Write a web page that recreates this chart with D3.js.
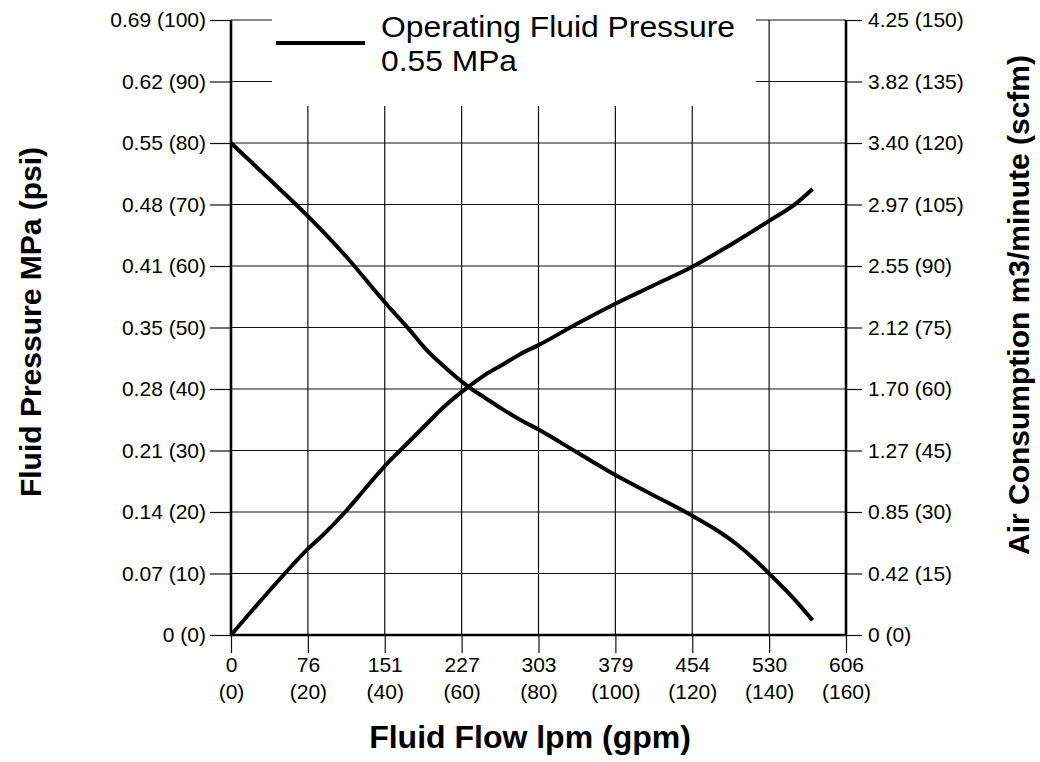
<!DOCTYPE html>
<html>
<head>
<meta charset="utf-8">
<script src="https://cdn.jsdelivr.net/npm/d3@7"></script>
<style>
  body { margin: 0; background: #fff; }
  text { font-family: "Liberation Sans", Arial, Helvetica, sans-serif; fill: #000; }
</style>
</head>
<body>
<div id="chart"></div>
<script>
// Data (flow in gpm, pressure in psi, air in scfm)
const pressureFlow = [0, 10, 20, 30, 40, 46.6, 50.5, 55, 61.7, 66, 70.4, 75.2, 80, 90, 100, 110, 120, 126, 131.5, 136, 140, 146, 151.3]
const pressurePsi  = [80, 74.1, 68.1, 61.5, 54.1, 49.5, 46.6, 43.9, 40.4, 38.6, 36.8, 35.0, 33.4, 29.7, 26.0, 22.7, 19.4, 17.2, 14.8, 12.4, 10.0, 6.2, 2.4]

const airFlow = [0, 7, 14, 20, 23.6, 29.7, 35, 40, 44, 50, 55, 61.7, 66, 70.4, 75.2, 80, 90, 100, 110, 120, 130, 140, 147.2, 151.3]
const airScfm = [0, 7.6, 15, 21, 24.1, 30, 35.8, 41.2, 45, 50.6, 55.3, 60.5, 63.4, 65.8, 68.5, 70.7, 75.9, 80.8, 85.3, 89.8, 95.2, 101, 105.4, 108.8]

// tick labels
const flowTicks = [0, 20, 40, 60, 80, 100, 120, 140, 160]
const flowLpm = ["0", "76", "151", "227", "303", "379", "454", "530", "606"]
const psiTicks = [0, 10, 20, 30, 40, 50, 60, 70, 80, 90, 100]
const mpaLabels = ["0", "0.07", "0.14", "0.21", "0.28", "0.35", "0.41", "0.48", "0.55", "0.62", "0.69"]
const scfmTicks = [0, 15, 30, 45, 60, 75, 90, 105, 120, 135, 150]
const m3Labels = ["0", "0.42", "0.85", "1.27", "1.70", "2.12", "2.55", "2.97", "3.40", "3.82", "4.25"]

const width = 1040
const height = 762
const plotL = 231, plotR = 846, plotT = 20, plotB = 635

var svg = d3.select("#chart")
    .append("svg")
    .attr("width", width)
    .attr("height", height)

var x = d3.scaleLinear().domain([0, 160]).range([plotL, plotR])
var yP = d3.scaleLinear().domain([0, 100]).range([plotB, plotT])
var yA = d3.scaleLinear().domain([0, 150]).range([plotB, plotT])

// grid
svg.append("g")
    .selectAll("line")
    .data(psiTicks)
    .enter()
    .append("line")
    .attr("x1", plotL).attr("x2", plotR)
    .attr("y1", d => yP(d)).attr("y2", d => yP(d))
    .attr("stroke", "#111")
    .attr("stroke-width", 1.2)

svg.append("g")
    .selectAll("line")
    .data(flowTicks.slice(1, -1))
    .enter()
    .append("line")
    .attr("x1", d => x(d)).attr("x2", d => x(d))
    .attr("y1", plotT).attr("y2", plotB)
    .attr("stroke", "#111")
    .attr("stroke-width", 1.2)

// left axis (MPa / psi)
svg.append("g")
    .attr("transform", "translate(" + plotL + ",0)")
    .call(d3.axisLeft(yP).tickValues(psiTicks).tickSize(21).tickPadding(4)
        .tickFormat((d, i) => mpaLabels[i] + " (" + d + ")"))
    .call(g => g.select(".domain").remove())
    .call(g => g.selectAll(".tick line").attr("stroke", "#111").attr("stroke-width", 1.2))
    .call(g => g.selectAll("text").style("font-size", "21px").attr("fill", "#222"))

// right axis (m3/min / scfm)
svg.append("g")
    .attr("transform", "translate(" + plotR + ",0)")
    .call(d3.axisRight(yA).tickValues(scfmTicks).tickSize(16).tickPadding(6)
        .tickFormat((d, i) => m3Labels[i] + " (" + d + ")"))
    .call(g => g.select(".domain").remove())
    .call(g => g.selectAll(".tick line").attr("stroke", "#111").attr("stroke-width", 1.2))
    .call(g => g.selectAll("text").style("font-size", "21px").attr("fill", "#222"))

// bottom axis, two line labels: lpm over (gpm)
var xAxis = svg.append("g")
    .attr("transform", "translate(0," + plotB + ")")
    .call(d3.axisBottom(x).tickValues(flowTicks).tickSize(18).tickFormat(""))
xAxis.select(".domain").remove()
xAxis.selectAll(".tick line").attr("stroke", "#111").attr("stroke-width", 1.2)
xAxis.selectAll(".tick")
    .append("text")
    .attr("text-anchor", "middle")
    .style("font-size", "21px")
    .attr("fill", "#222")
    .each(function (d, i) {
        var t = d3.select(this)
        t.append("tspan").attr("x", 0).attr("y", 37).text(flowLpm[i])
        t.append("tspan").attr("x", 0).attr("y", 64).text("(" + d + ")")
    })

// legend area blanks out the top of the grid
svg.append("rect")
    .attr("x", 272).attr("y", 0)
    .attr("width", 756 - 272).attr("height", 106)
    .attr("fill", "#fff")

// frame: left, right and bottom are heavy
svg.append("path")
    .attr("d", "M" + plotL + "," + plotT + "V" + plotB + "H" + plotR + "V" + plotT)
    .attr("fill", "none")
    .attr("stroke", "#000")
    .attr("stroke-width", 2.6)

// curves
var linePressure = d3.line()
    .x((d, i) => x(pressureFlow[i]))
    .y(d => yP(d))
    .curve(d3.curveMonotoneX)

var lineAir = d3.line()
    .x((d, i) => x(airFlow[i]))
    .y(d => yA(d))
    .curve(d3.curveMonotoneX)

svg.append("path")
    .attr("d", linePressure(pressurePsi))
    .attr("fill", "none")
    .attr("stroke", "#000")
    .attr("stroke-width", 4)

svg.append("path")
    .attr("d", lineAir(airScfm))
    .attr("fill", "none")
    .attr("stroke", "#000")
    .attr("stroke-width", 4)

// legend
svg.append("line")
    .attr("x1", 276).attr("x2", 365)
    .attr("y1", 43).attr("y2", 43)
    .attr("stroke", "#000")
    .attr("stroke-width", 4)

svg.append("text")
    .attr("x", 381).attr("y", 37)
    .style("font-size", "30px")
    .attr("textLength", 354)
    .attr("lengthAdjust", "spacingAndGlyphs")
    .text("Operating Fluid Pressure")

svg.append("text")
    .attr("x", 381).attr("y", 71)
    .style("font-size", "30px")
    .attr("textLength", 136)
    .attr("lengthAdjust", "spacingAndGlyphs")
    .text("0.55 MPa")

// axis titles
svg.append("text")
    .attr("x", 530).attr("y", 748)
    .attr("text-anchor", "middle")
    .style("font-size", "32px")
    .style("font-weight", "bold")
    .text("Fluid Flow lpm (gpm)")

svg.append("text")
    .attr("transform", "translate(41,322) rotate(-90)")
    .attr("text-anchor", "middle")
    .style("font-size", "30px")
    .style("font-weight", "bold")
    .text("Fluid Pressure MPa (psi)")

svg.append("text")
    .attr("transform", "translate(1029,305) rotate(-90)")
    .attr("text-anchor", "middle")
    .style("font-size", "30px")
    .style("font-weight", "bold")
    .text("Air Consumption m3/minute (scfm)")
</script>
</body>
</html>
